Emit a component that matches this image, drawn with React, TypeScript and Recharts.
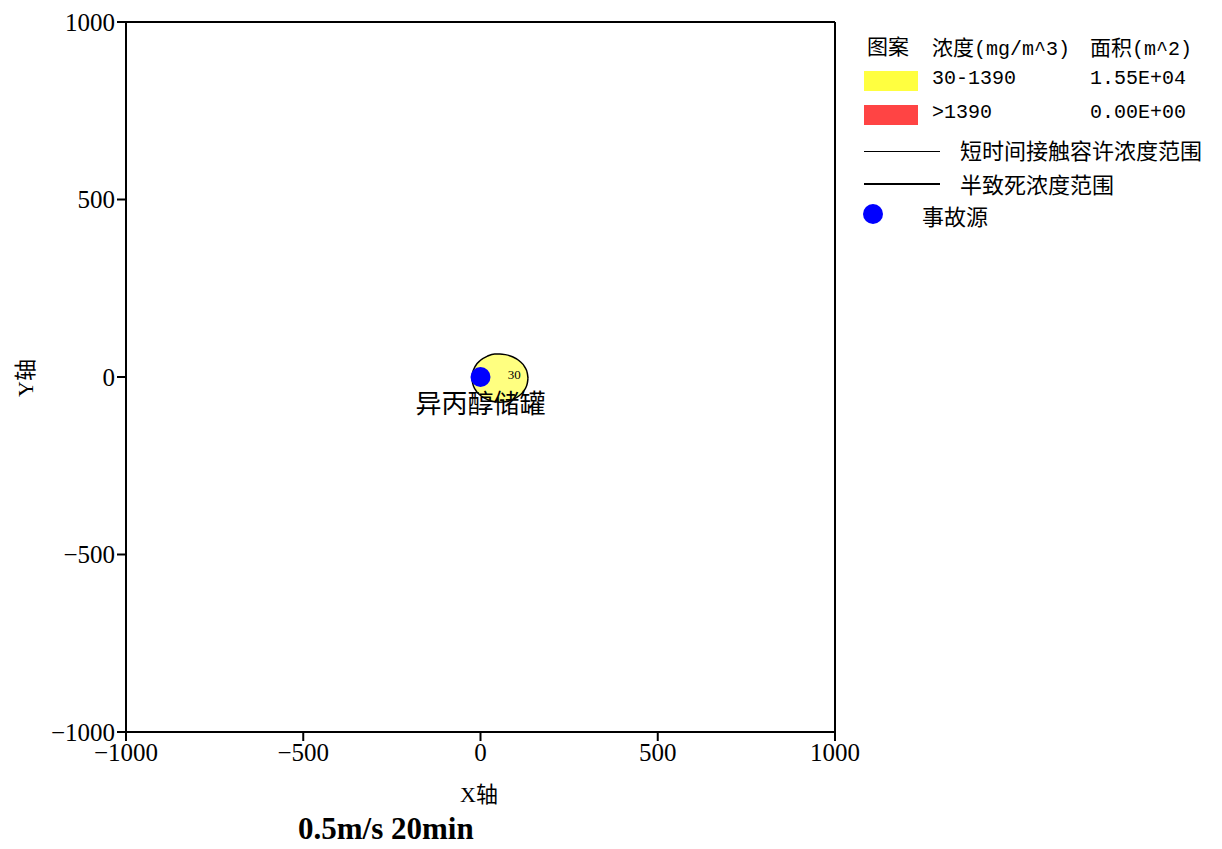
import { ComposedChart, Area, Scatter, XAxis, YAxis, ReferenceLine, ReferenceDot } from "recharts";

const xTicks = [-1000, -500, 0, 500, 1000];
const yTicks = [-1000, -500, 0, 500, 1000];

// plume outline (30 mg/m3 contour)
const plumeX = [-24, -22, -15, 0, 20, 40, 55, 70, 90, 110, 125, 132, 134];
const plumeUpper = [-3, 12, 30, 47, 59, 65, 65, 63, 57, 45, 28, 11, -3];
const plumeLower = [-3, -18, -35, -52, -64, -70, -71, -70, -64, -52, -35, -18, -3];

const sourceX = [0];
const sourceY = [0];
const sourceName = "异丙醇储罐";

const legendRows = [
  { color: "#ffff40", range: "30-1390", area: "1.55E+04" },
  { color: "#ff4444", range: ">1390", area: "0.00E+00" },
];

const plume = plumeX.map((x, i) => ({ x, range: [plumeLower[i], plumeUpper[i]] }));
const source = sourceX.map((x, i) => ({ x, y: sourceY[i] }));

const fmt = (v: number) => (v < 0 ? "\u2212" + Math.abs(v) : String(v));
const tickFont = { fill: "#000", fontSize: 25, fontFamily: "'Liberation Serif', serif" };
const mono = "'Liberation Mono', 'Noto Sans CJK SC', monospace";
const cjk = "'Noto Sans CJK SC', sans-serif";

function SourceShape(props: any) {
  const { cx, cy } = props;
  return (
    <g>
      <circle cx={cx} cy={cy} r={10} fill="#0000ff" />
      <text
        x={cx}
        y={cy + 24}
        textAnchor="middle"
        dominantBaseline="central"
        fontSize={26}
        fontFamily={cjk}
        fill="#000"
      >
        {sourceName}
      </text>
    </g>
  );
}

export default function App() {
  return (
    <div style={{ position: "absolute", left: 0, top: 0, width: 1222, height: 849, background: "#fff" }}>
      <ComposedChart
        width={1222}
        height={849}
        data={plume}
        margin={{ top: 22, right: 387, left: 16, bottom: 67 }}
      >
        <XAxis
          type="number"
          dataKey="x"
          domain={[-1000, 1000]}
          ticks={xTicks}
          tickFormatter={fmt}
          height={50}
          tick={tickFont}
          tickSize={9}
          axisLine={{ stroke: "#000", strokeWidth: 2 }}
          tickLine={{ stroke: "#000", strokeWidth: 2 }}
          allowDataOverflow
        />
        <YAxis
          type="number"
          domain={[-1000, 1000]}
          ticks={yTicks}
          tickFormatter={fmt}
          width={110}
          tick={tickFont}
          tickSize={9}
          axisLine={{ stroke: "#000", strokeWidth: 2 }}
          tickLine={{ stroke: "#000", strokeWidth: 2 }}
          allowDataOverflow
        />
        <ReferenceLine y={1000} stroke="#000" strokeWidth={2} />
        <ReferenceLine x={1000} stroke="#000" strokeWidth={2} />
        <Area
          type="monotone"
          dataKey="range"
          stroke="#000"
          strokeWidth={1.5}
          fill="#ffff80"
          fillOpacity={1}
          dot={false}
          activeDot={false}
          isAnimationActive={false}
        />
        <ReferenceDot
          x={95}
          y={8}
          r={0}
          label={{ value: "30", fontSize: 13, fill: "#000", fontFamily: "'Liberation Serif', serif" }}
        />
        <Scatter data={source} dataKey="y" shape={SourceShape} isAnimationActive={false} />
      </ComposedChart>

      <div style={{ position: "absolute", left: 460, top: 776, fontSize: 22, fontFamily: "'Liberation Serif', 'Noto Sans CJK SC', serif" }}>
        X轴
      </div>
      <div
        style={{
          position: "absolute",
          left: 2,
          top: 362,
          fontSize: 22,
          fontFamily: "'Liberation Serif', 'Noto Sans CJK SC', serif",
          transform: "rotate(-90deg)",
          transformOrigin: "20px 15px",
        }}
      >
        Y轴
      </div>
      <div
        style={{
          position: "absolute",
          left: 298,
          top: 811,
          fontSize: 31,
          fontWeight: "bold",
          fontFamily: "'Liberation Serif', serif",
        }}
      >
        0.5m/s 20min
      </div>

      <div style={{ position: "absolute", left: 0, top: 0, fontFamily: mono, fontSize: 20, color: "#000" }}>
        <div style={{ position: "absolute", left: 867, top: 30, whiteSpace: "nowrap", fontFamily: cjk, fontSize: 21 }}>图案</div>
        <div style={{ position: "absolute", left: 932, top: 31, whiteSpace: "nowrap" }}>
          <span style={{ fontFamily: cjk, fontSize: 21 }}>浓度</span>(mg/m^3)
        </div>
        <div style={{ position: "absolute", left: 1090, top: 31, whiteSpace: "nowrap" }}>
          <span style={{ fontFamily: cjk, fontSize: 21 }}>面积</span>(m^2)
        </div>
        {legendRows.map((r, i) => (
          <div key={r.range}>
            <div style={{ position: "absolute", left: 864, top: 71 + i * 34, width: 54, height: 20, background: r.color }} />
            <div style={{ position: "absolute", left: 932, top: 67 + i * 34, whiteSpace: "nowrap" }}>{r.range}</div>
            <div style={{ position: "absolute", left: 1090, top: 67 + i * 34, whiteSpace: "nowrap" }}>{r.area}</div>
          </div>
        ))}
        <div style={{ position: "absolute", left: 864, top: 151, width: 76, height: 1, background: "#000" }} />
        <div style={{ position: "absolute", left: 960, top: 133, whiteSpace: "nowrap", fontFamily: cjk, fontSize: 22 }}>短时间接触容许浓度范围</div>
        <div style={{ position: "absolute", left: 864, top: 183, width: 76, height: 2, background: "#000" }} />
        <div style={{ position: "absolute", left: 960, top: 167, whiteSpace: "nowrap", fontFamily: cjk, fontSize: 22 }}>半致死浓度范围</div>
        <div style={{ position: "absolute", left: 863, top: 204, width: 20, height: 20, borderRadius: 10, background: "#0000ff" }} />
        <div style={{ position: "absolute", left: 922, top: 199, whiteSpace: "nowrap", fontFamily: cjk, fontSize: 22 }}>事故源</div>
      </div>
    </div>
  );
}
